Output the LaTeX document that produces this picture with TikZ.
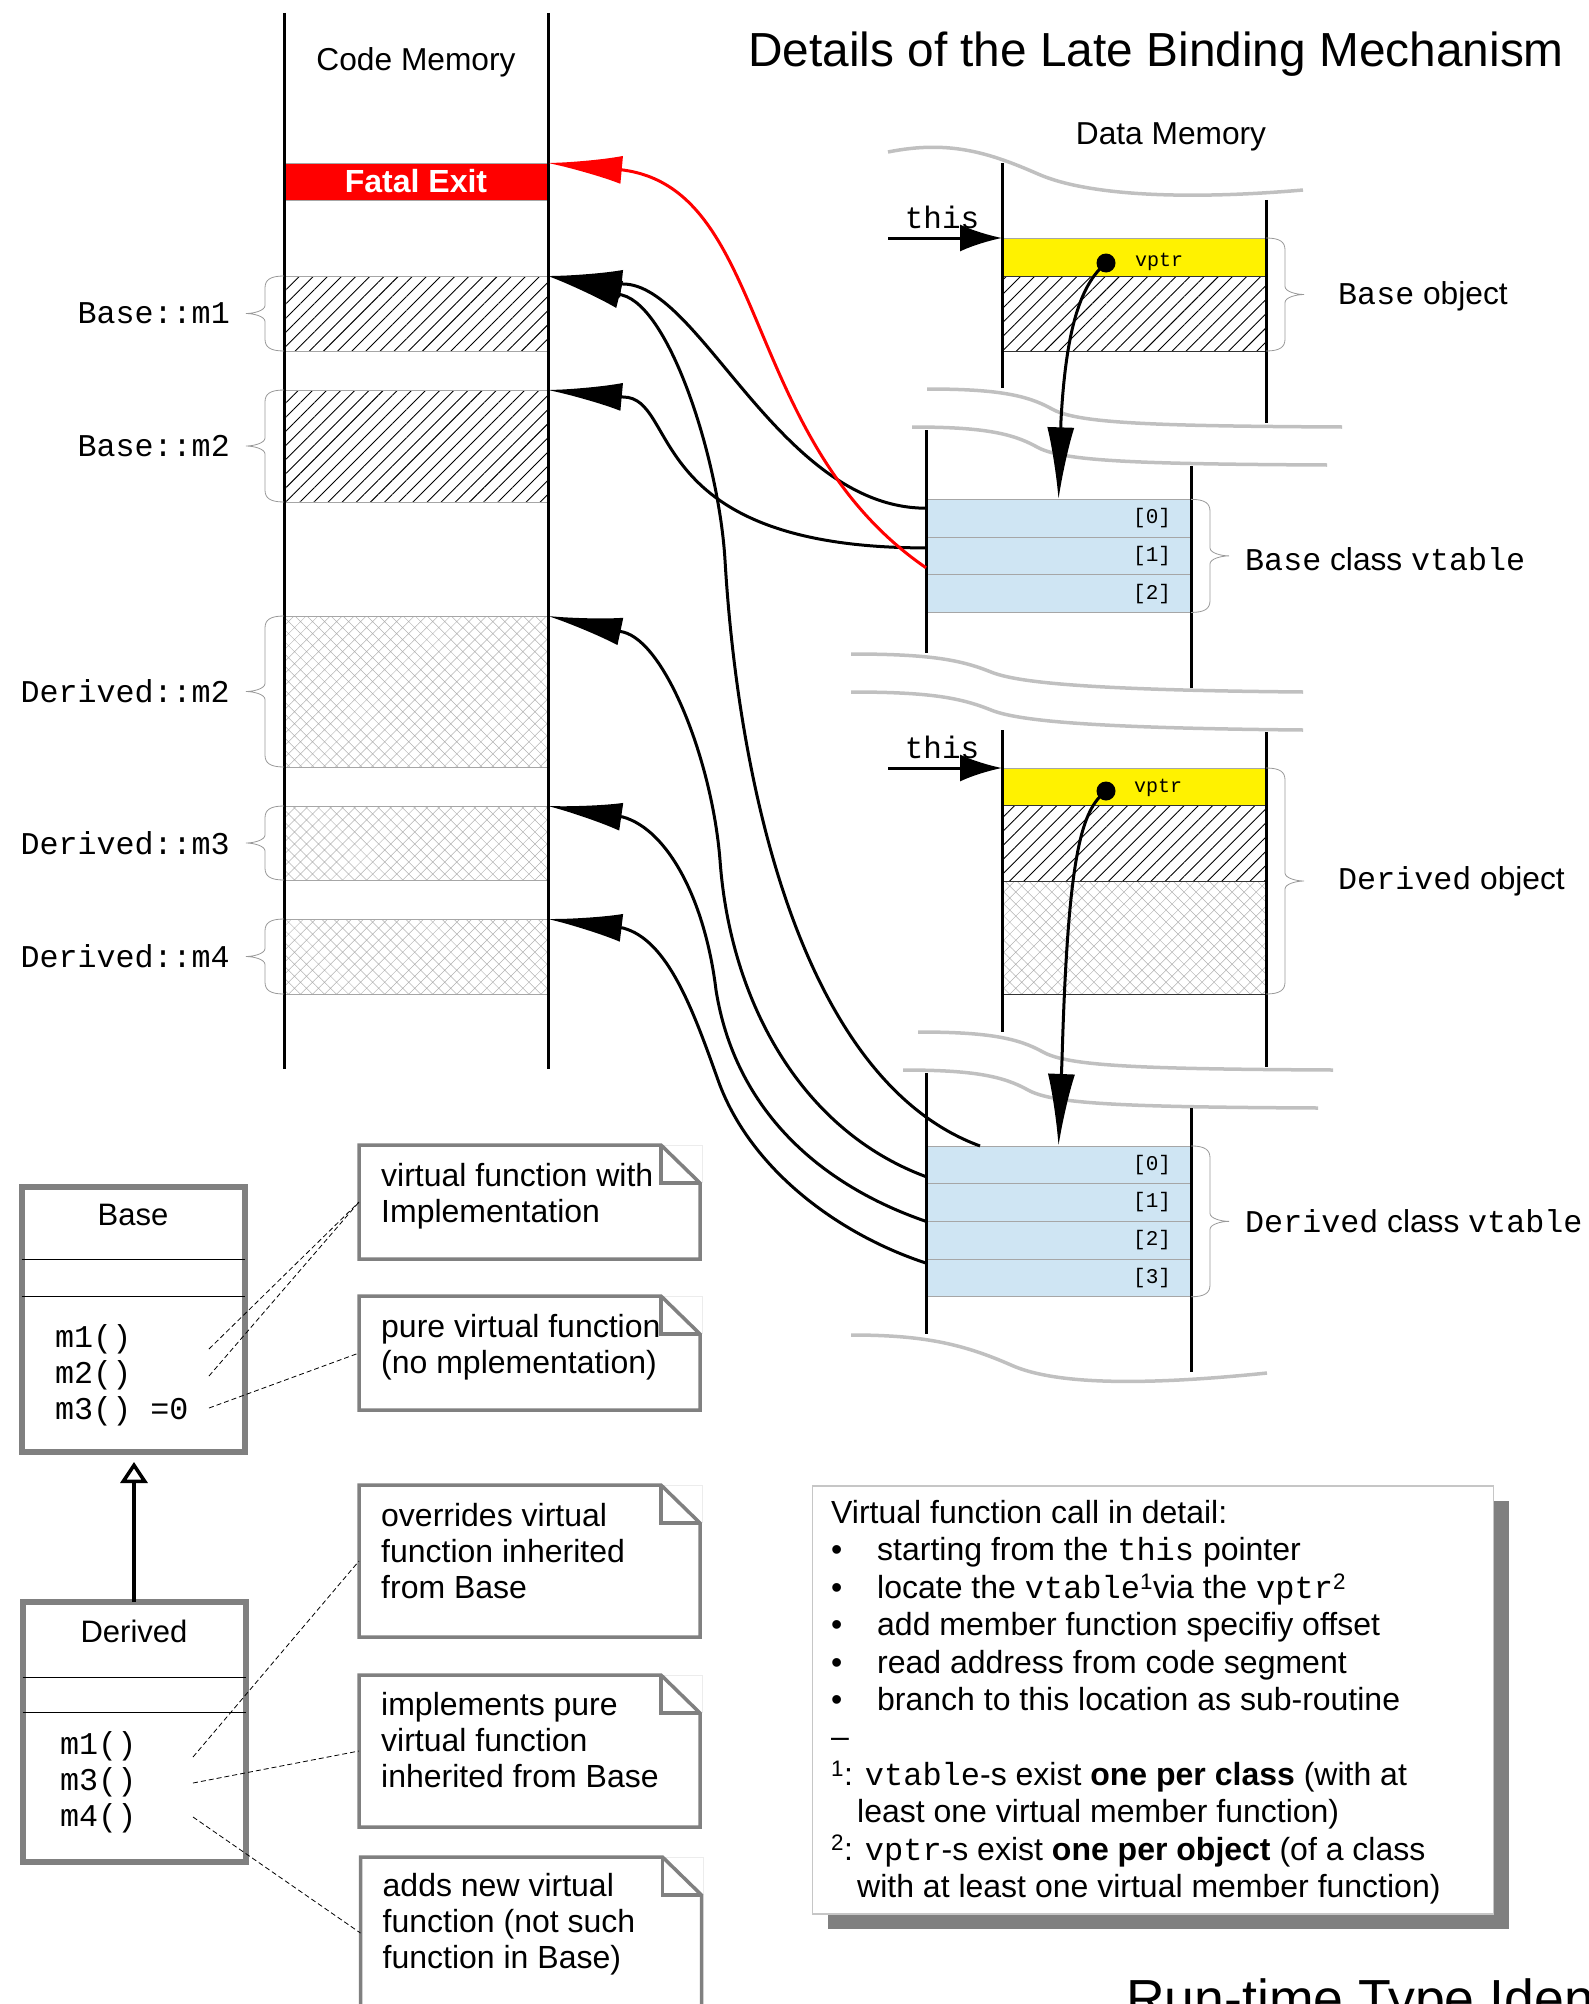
\documentclass[tikz,border=0pt]{standalone}
\usepackage{fontspec}
\setmainfont{Liberation Sans}
\setmonofont{Liberation Mono}
\usetikzlibrary{arrows.meta, positioning, calc, patterns.meta, shadows}

\definecolor{vtblue}{HTML}{CFE5F3}
\definecolor{umlgray}{HTML}{808080}
\definecolor{wavegray}{HTML}{C0C0C0}

\begin{document}
\begin{tikzpicture}[
    x=1pt, y=-1pt,
    memfont/.style={font=\fontsize{31.7}{36}\selectfont},
    memlbl/.style={font=\ttfamily\fontsize{31.7}{36}\selectfont, inner sep=0pt},
    objlbl/.style={font=\fontsize{31.7}{36}\selectfont, inner sep=0pt},
    block/.style={draw=gray!70, line width=0.8pt, minimum width=264pt, inner sep=0pt, outer sep=0pt},
    hatched/.style={block, pattern={Lines[angle=45,distance=10pt,line width=0.9pt]}, pattern color=black},
    crossed/.style={block, pattern={Hatch[angle=45,distance=8.5pt,line width=0.5pt]}, pattern color=gray!60},
    vslot/.style={block, fill=yellow},
    vrow/.style={draw=gray!70, line width=0.8pt, fill=vtblue, minimum width=265pt, minimum height=37.7pt,
        text width=225pt, align=right, inner xsep=20pt, inner ysep=0pt, outer sep=0pt,
        font=\ttfamily\fontsize{21}{24}\selectfont},
    vdot/.style={circle, fill=black, minimum size=19pt, inner sep=0pt},
    vptrlbl/.style={font=\ttfamily\fontsize{20}{24}\selectfont, inner sep=0pt},
    thislbl/.style={font=\ttfamily\fontsize{31}{36}\selectfont, inner sep=0pt},
    memline/.style={line width=3pt},
    wavy/.style={draw=wavegray, line width=3.5pt},
    bracestyle/.style={draw=gray!80, line width=0.8pt},
    callarrow/.style={-{Latex[length=74pt,width=28pt]}, line width=3pt},
    fatalarrow/.style={callarrow, draw=red},
    vptrarrow/.style={-{Latex[length=72pt,width=27pt]}, line width=3pt},
    thisarrow/.style={-{Latex[length=42pt,width=27pt]}, line width=3pt},
    umlclass/.style={draw=umlgray, line width=6pt, minimum width=223pt, inner sep=0pt, outer sep=0pt},
    umlname/.style={font=\fontsize{31}{36}\selectfont, inner sep=0pt},
    umlmeth/.style={font=\ttfamily\fontsize{31.7}{36}\selectfont, inner sep=0pt},
    notebox/.style={minimum width=341pt, inner sep=0pt, outer sep=0pt},
    notetext/.style={anchor=north west, align=left, inner sep=0pt, font=\fontsize{32}{36}\selectfont},
    noteline/.style={draw=umlgray, line width=3.5pt, line join=miter},
    hint/.style={dash pattern=on 5pt off 3pt, line width=0.8pt},
    inherit/.style={-{Triangle[open,length=21pt,width=27pt]}, line width=3.5pt},
    infobox/.style={draw=gray!45, line width=1.2pt, fill=white, minimum width=681pt, minimum height=428pt,
        general shadow={fill=umlgray, shadow xshift=15pt, shadow yshift=-15pt}},
    infotext/.style={anchor=north west, align=left, inner sep=0pt, font=\fontsize{32}{37.4}\selectfont}
]
\useasboundingbox (0,0) rectangle (1589,2004);
\clip (0,0) rectangle (1589,2004);

% Title
\node[anchor=base west, inner sep=0pt, font=\fontsize{47.8}{56}\selectfont] (title) at (748,67) {Details of the Late Binding Mechanism};

% Code memory
\node[memfont, anchor=base, inner sep=0pt] (codelbl) at (416,71) {Code Memory};
\node[block, fill=red, minimum height=37pt, text=white, font=\fontsize{32}{36}\selectfont\bfseries] (fatal) at (416,181.5) {Fatal Exit};
\node[hatched, minimum height=75pt] (bm1) at (416,313.5) {};
\node[hatched, minimum height=112pt] (bm2) at (416,446) {};
\node[crossed, minimum height=151pt] (dm2) at (416,691.5) {};
\node[crossed, minimum height=74pt] (dm3) at (416,843) {};
\node[crossed, minimum height=75pt] (dm4) at (416,956.5) {};
\draw[memline] (284,13) -- (284,1069);
\draw[memline] (548,13) -- (548,1069);

% Function labels with braces
\foreach \blk/\txt in {bm1/Base::m1, bm2/Base::m2, dm2/Derived::m2, dm3/Derived::m3, dm4/Derived::m4}{
  \node[memlbl, left=54pt of \blk] (\blk-lbl) {\txt};
  \draw[bracestyle] (\blk.north west) .. controls +(-14,0) and +(0,-8) .. ($(\blk.north west)+(-19,12)$)
    -- ($(\blk.west)+(-19,-8)$) .. controls +(0,5) and +(8,0) .. ($(\blk.west)+(-38,0)$)
    .. controls +(8,0) and +(0,-5) .. ($(\blk.west)+(-19,8)$)
    -- ($(\blk.south west)+(-19,-12)$) .. controls +(0,8) and +(-14,0) .. (\blk.south west);
}

% Data memory
\node[memfont, anchor=base, inner sep=0pt] (datalbl) at (1171,145) {Data Memory};
\draw[wavy, shift={(888,152)}] (0,0) .. controls (60,-12) and (100,0) .. (150,22) .. controls (200,44) and (300,48) .. (415,38);
\foreach \sx/\sy in {927/389, 912/427, 918/1032, 903/1070}
  \draw[wavy, shift={(\sx,\sy)}] (0,0) .. controls (70,0) and (100,6) .. (125,20) .. controls (150,34) and (220,37) .. (415,38);
\foreach \sx/\sy in {851/654, 851/692}
  \draw[wavy, shift={(\sx,\sy)}] (0,0) .. controls (80,0) and (110,6) .. (140,18) .. controls (165,28) and (230,36) .. (452,38);
\draw[wavy, shift={(851,1335)}] (0,0) .. controls (70,0) and (110,8) .. (160,30) .. controls (200,48) and (280,52) .. (416,38);

% Base object
\node[vslot, minimum height=38pt] (bvp) at (1134,257) {};
\node[hatched, draw=black!80, minimum height=75pt, below=0pt of bvp] (bhat) {};
\node[vptrlbl, anchor=base] (bvplbl) at (1159,266) {vptr};
\node[vdot] (bdot) at (1106,263) {};
\draw[memline] (1002,163) -- (1002,388);
\draw[memline] (1266,200) -- (1266,423);
\coordinate (bthis) at (888,238);
\draw[thisarrow] (bthis) -- (bvp.north west);
\node[thislbl, anchor=base] (bthislbl) at (942,228) {this};
\node[objlbl, anchor=west] (bobjlbl) at (1338,296) {\texttt{Base} object};

% Base class vtable
\node[vrow] (bvt0) at (1058.5,518.2) {[0]};
\node[vrow, below=0pt of bvt0] (bvt1) {[1]};
\node[vrow, below=0pt of bvt1] (bvt2) {[2]};
\draw[memline] (926,430) -- (926,653);
\draw[memline] (1191,466) -- (1191,688);
\node[objlbl, anchor=west] (bvtlbl) at (1245,559) {\texttt{Base} class \texttt{vtable}};
\draw[vptrarrow] (bdot.center) .. controls (1080,285) and (1066,330) .. (1061,420) -- (bvt0.north);

% Derived object
\node[vslot, minimum height=37pt] (dvp) at (1134,786.5) {};
\node[hatched, draw=black!80, minimum height=76pt, below=0pt of dvp] (dhat) {};
\node[crossed, draw=black!80, minimum height=113pt, below=0pt of dhat] (dcross) {};
\node[vptrlbl, anchor=base] (dvplbl) at (1158,792) {vptr};
\node[vdot] (ddot) at (1106,791) {};
\draw[memline] (1002,730) -- (1002,1032);
\draw[memline] (1266,732) -- (1266,1067);
\coordinate (dthis) at (888,768);
\draw[thisarrow] (dthis) -- (dvp.north west);
\node[thislbl, anchor=base] (dthislbl) at (942,758) {this};
\node[objlbl, anchor=west] (dobjlbl) at (1338,881) {\texttt{Derived} object};

% Derived class vtable
\node[vrow] (dvt0) at (1058.5,1164.8) {[0]};
\node[vrow, below=0pt of dvt0] (dvt1) {[1]};
\node[vrow, below=0pt of dvt1] (dvt2) {[2]};
\node[vrow, below=0pt of dvt2] (dvt3) {[3]};
\draw[memline] (926,1073) -- (926,1334);
\draw[memline] (1191,1108) -- (1191,1372);
\node[objlbl, anchor=west] (dvtlbl) at (1245,1221) {\texttt{Derived} class \texttt{vtable}};
\draw[vptrarrow] (ddot.center) .. controls (1082,810) and (1068,850) .. (1062,1060) -- (dvt0.north);

% Right braces
\foreach \a/\b in {bvp/bhat, bvt0/bvt2, dvp/dcross, dvt0/dvt3}{
  \draw[bracestyle] (\a.north east) .. controls +(14,0) and +(0,-8) .. ($(\a.north east)+(19,12)$)
    -- ($(\a.north east)!0.5!(\b.south east)+(19,-8)$) .. controls +(0,5) and +(-8,0) .. ($(\a.north east)!0.5!(\b.south east)+(38,0)$)
    .. controls +(-8,0) and +(0,-5) .. ($(\a.north east)!0.5!(\b.south east)+(19,8)$)
    -- ($(\b.south east)+(19,-12)$) .. controls +(0,8) and +(14,0) .. (\b.south east);
}

% vtable entries into code memory
\draw[callarrow] ($(bvt0.west)+(0,-10)$) .. controls (780,508) and (700,284) .. (623,284) -- (bm1.north east);
\draw[callarrow] ($(bvt1.west)+(0,-8)$) .. controls (640,548) and (680,397) .. (623,397) -- (bm2.north east);
\draw[fatalarrow] ($(bvt1.south west)+(0,-7)$) .. controls (740,440) and (770,190) .. (623,170) -- (fatal.north east);
\draw[callarrow] ($(dvt0.north west)+(54,0)$) .. controls (800,1080) and (738,780) .. (725,560)
    .. controls (719,460) and (670,307) .. (622,295) -- (bm1.north east);
\draw[callarrow] ($(dvt0.south west)+(0,-7)$) .. controls (800,1130) and (730,1000) .. (720,860)
    .. controls (712,760) and (665,642) .. (623,632) -- (dm2.north east);
\draw[callarrow] (dvt1.south west) .. controls (820,1185) and (735,1110) .. (716,990)
    .. controls (705,900) and (668,830) .. (623,817) -- (dm3.north east);
\draw[callarrow] ($(dvt2.south west)+(0,4)$) .. controls (840,1235) and (750,1170) .. (718,1080)
    .. controls (693,1010) and (668,940) .. (623,928) -- (dm4.north east);

% UML classes
\node[umlclass, minimum height=265pt] (base) at (133,1319.5) {};
\node[umlname] (basename) at (133,1215) {Base};
\draw[line width=1pt] ($(base.north west)+(0,72)$) -- ($(base.north east)+(0,72)$);
\draw[line width=1pt] ($(base.north west)+(0,109)$) -- ($(base.north east)+(0,109)$);
\node[umlmeth, anchor=west] (bmeth1) at (55,1339) {m1()};
\node[umlmeth, anchor=west] (bmeth2) at (55,1375.7) {m2()};
\node[umlmeth, anchor=west] (bmeth3) at (55,1411.4) {m3() =0};

\node[umlclass, minimum height=260pt] (derived) at (134,1732) {};
\node[umlname] (derivedname) at (134,1631) {Derived};
\draw[line width=1pt] ($(derived.north west)+(0,75)$) -- ($(derived.north east)+(0,75)$);
\draw[line width=1pt] ($(derived.north west)+(0,110.5)$) -- ($(derived.north east)+(0,110.5)$);
\node[umlmeth, anchor=west] (dmeth1) at (60,1746) {m1()};
\node[umlmeth, anchor=west] (dmeth3) at (60,1782) {m3()};
\node[umlmeth, anchor=west] (dmeth4) at (60,1818) {m4()};

\draw[inherit] (derived.north) -- ($(derived.north |- base.south)+(0,10)$);

% Notes
\node[notebox, minimum height=114pt] (n1) at (529.5,1202) {};
\node[notebox, minimum height=114pt] (n2) at (529.5,1353) {};
\node[notebox, minimum height=152pt] (n3) at (529.5,1561) {};
\node[notebox, minimum height=152pt] (n4) at (529.5,1751) {};
\node[notebox, minimum height=152pt] (n5) at (531,1933) {};
\foreach \n in {n1,n2,n3,n4,n5}{
  \draw[gray!15, line width=0.8pt] ($(\n.north east)+(-39,0)$) -- ($(\n.north east)+(2,0)$) -- ($(\n.north east)+(2,38)$);
  \draw[noteline] (\n.south west) -- (\n.north west) -- ($(\n.north east)+(-39,0)$) -- ($(\n.north east)+(0,38)$) -- (\n.south east) -- cycle;
  \draw[noteline] ($(\n.north east)+(-39,0)$) -- ($(\n.north east)+(-39,38)$) -- ($(\n.north east)+(0,38)$);
}
\node[notetext] (n1txt) at ($(n1.north west)+(22,18)$) {virtual function with\\Implementation};
\node[notetext] (n2txt) at ($(n2.north west)+(22,18)$) {pure virtual function\\(no mplementation)};
\node[notetext] (n3txt) at ($(n3.north west)+(22,18)$) {overrides virtual\\function inherited\\from Base};
\node[notetext] (n4txt) at ($(n4.north west)+(22,17)$) {implements pure\\virtual function\\inherited from Base};
\node[notetext] (n5txt) at ($(n5.north west)+(22,16)$) {adds new virtual\\function (not such\\function in Base)};

% Note links
\coordinate (bmeth1end) at (209,1349);
\coordinate (bmeth2end) at (209,1376);
\coordinate (bmeth3end) at (209,1408);
\coordinate (dmeth1end) at (193,1757);
\coordinate (dmeth3end) at (193,1783);
\coordinate (dmeth4end) at (193,1817);
\draw[hint] (bmeth1end) -- (n1.west);
\draw[hint] (bmeth2end) -- (n1.west);
\draw[hint] (bmeth3end) -- (n2.west);
\draw[hint] (dmeth1end) -- (n3.west);
\draw[hint] (dmeth3end) -- (n4.west);
\draw[hint] (dmeth4end) -- (n5.west);

% Call details
\node[infobox] (info) at (1153,1700) {};
\node[infotext] (infotxt) at (831,1500) {Virtual function call in detail:\\
\makebox[46pt][l]{\textbullet}starting from the \texttt{this} pointer\\
\makebox[46pt][l]{\textbullet}locate the \texttt{vtable}\textsuperscript{1}via the \texttt{vptr}\textsuperscript{2}\\
\makebox[46pt][l]{\textbullet}add member function specifiy offset\\
\makebox[46pt][l]{\textbullet}read address from code segment\\
\makebox[46pt][l]{\textbullet}branch to this location as sub-routine\\
--\\
\textsuperscript{1}: \texttt{vtable}-s exist \textbf{one per class} (with at\\
\hspace*{26pt}least one virtual member function)\\
\textsuperscript{2}: \texttt{vptr}-s exist \textbf{one per object} (of a class\\
\hspace*{26pt}with at least one virtual member function)};

% Next heading, cut by the page
\node[anchor=base west, inner sep=0pt, font=\fontsize{53.6}{60}\selectfont] (rtti) at (1126,2017) {Run-time Type Identification};

\end{tikzpicture}
\end{document}
